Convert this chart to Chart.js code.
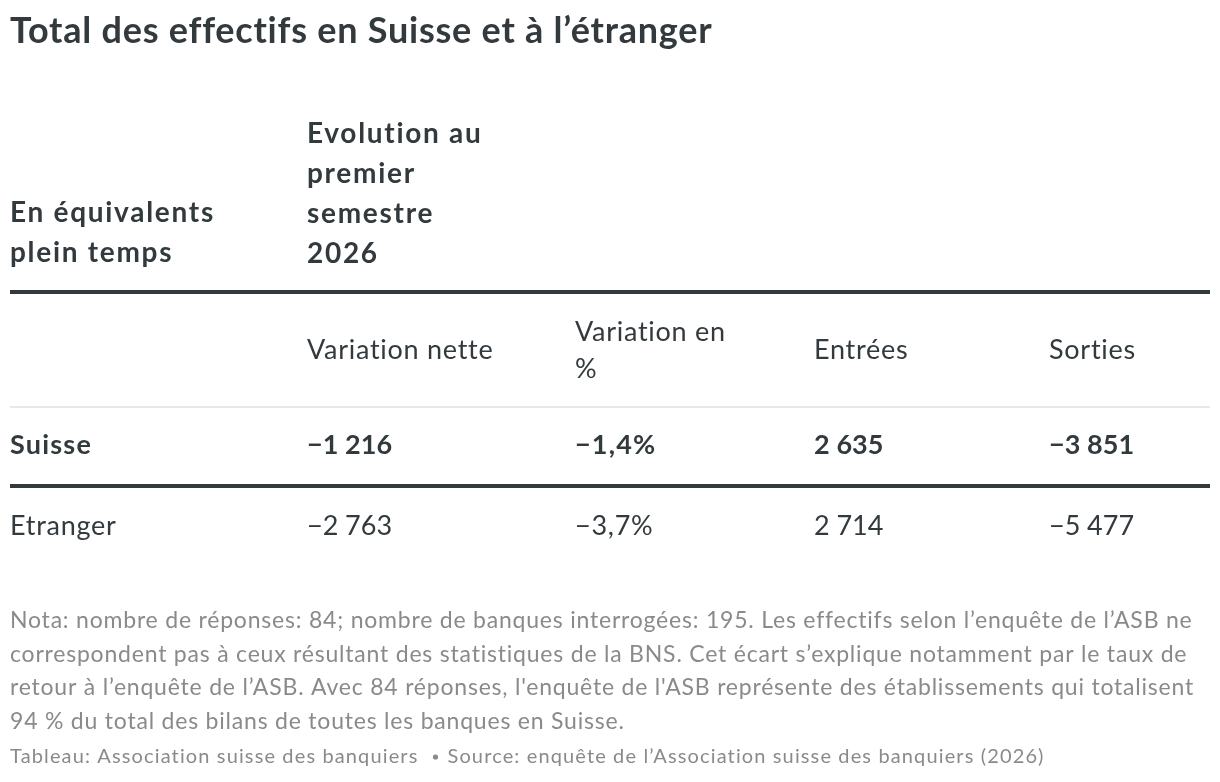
<!DOCTYPE html>
<html lang="fr">
<head>
<meta charset="utf-8">
<title>Total des effectifs en Suisse et à l’étranger</title>
<script src="https://cdn.jsdelivr.net/npm/chart.js@4/dist/chart.umd.min.js"></script>
<style>
  html, body { margin: 0; padding: 0; background: #fff; }
  #wrap { width: 1220px; height: 782px; position: relative; }
</style>
</head>
<body>
<div id="wrap"><canvas id="tableChart"></canvas></div>
<script>
// --- data ---
const rows = ['Suisse', 'Etranger'];
const boldRows = ['Suisse'];
const columns = [['Variation nette'], ['Variation en', '%'], ['Entrées'], ['Sorties']];
const netChange = [-1216, -2763];
const pctChange = [-1.4, -3.7];
const entries = [2635, 2714];
const exits = [-3851, -5477];

const titleText = 'Total des effectifs en Suisse et à l’étranger';
const stubHeader = ['En équivalents', 'plein temps'];
const groupHeader = ['Evolution au', 'premier', 'semestre', '2026'];
const notes = [
  'Nota: nombre de réponses: 84; nombre de banques interrogées: 195. Les effectifs selon l’enquête de l’ASB ne',
  'correspondent pas à ceux résultant des statistiques de la BNS. Cet écart s’explique notamment par le taux de',
  'retour à l’enquête de l’ASB. Avec 84 réponses, l\'enquête de l\'ASB représente des établissements qui totalisent',
  '94 % du total des bilans de toutes les banques en Suisse.'
];
const sourceLeft = 'Tableau: Association suisse des banquiers';
const sourceRight = 'Source: enquête de l’Association suisse des banquiers (2026)';

// --- formatting ---
function fmtInt(n) {
  const s = Math.abs(n).toString().replace(/\B(?=(\d{3})+(?!\d))/g, '\u202F');
  return (n < 0 ? '\u2212' : '') + s;
}
function fmtPct(n) {
  const s = Math.abs(n).toFixed(1).replace('.', ',');
  return (n < 0 ? '\u2212' : '') + s + '%';
}

const valueCols = [
  { values: netChange, fmt: fmtInt },
  { values: pctChange, fmt: fmtPct },
  { values: entries, fmt: fmtInt },
  { values: exits, fmt: fmtInt }
];

// layout (left edges of the columns)
const colLeft = [10, 307, 575, 814, 1049];
const FONT = 'Lato, "Noto Sans", sans-serif';
const DARK = '#333a3d';
const GREY = '#8a8a8a';

// text styles: font + a sample string and the width it takes in the reference,
// used to pick a letter spacing so the narrower Lato spreads like the original
const styles = {
  title:  { font: '700 36px ' + FONT, sample: titleText, width: 702 },
  head:   { font: '700 28px ' + FONT, sample: 'Evolution au', width: 176 },
  body:   { font: '400 27px ' + FONT, sample: 'Variation nette', width: 186 },
  bold:   { font: '700 27px ' + FONT, sample: 'Suisse', width: 82 },
  notes:  { font: '400 23px ' + FONT, sample: notes[0], width: 1182 },
  source: { font: '400 20px ' + FONT, sample: sourceLeft, width: 409 }
};

function useStyle(ctx, st) {
  ctx.font = st.font;
  if (st.spacing === undefined) {
    ctx.letterSpacing = '0px';
    const w = ctx.measureText(st.sample).width;
    st.spacing = Math.max(0, (st.width - w) / st.sample.length);
  }
  ctx.letterSpacing = st.spacing.toFixed(2) + 'px';
}

const tablePlugin = {
  id: 'tableText',
  afterDraw(chart) {
    const ctx = chart.ctx;
    const y = chart.scales.y;
    const area = chart.chartArea;
    ctx.save();
    ctx.textAlign = 'left';
    ctx.textBaseline = 'alphabetic';
    ctx.fillStyle = DARK;

    // title
    useStyle(ctx, styles.title);
    ctx.fillText(titleText, 10, 43);

    // header block
    useStyle(ctx, styles.head);
    groupHeader.forEach((l, i) => ctx.fillText(l, colLeft[1], 143 + i * 40));
    stubHeader.forEach((l, i) => ctx.fillText(l, colLeft[0], 222 + i * 40));

    // thick rule under header
    ctx.fillRect(10, 290, 1200, 4);

    // column headers
    useStyle(ctx, styles.body);
    columns.forEach((lines, c) => {
      const first = 359 - (lines.length - 1) * 37 / 2;
      lines.forEach((l, i) => ctx.fillText(l, colLeft[c + 1], first + i * 37));
    });

    // thin rule above the body
    ctx.fillStyle = '#e8e8e8';
    ctx.fillRect(10, area.top + 2.5, 1200, 2);

    // body rows, placed by the category scale
    rows.forEach((r, i) => {
      const py = y.getPixelForValue(i);
      const bold = boldRows.includes(r);
      ctx.fillStyle = DARK;
      useStyle(ctx, bold ? styles.bold : styles.body);
      ctx.fillText(r, colLeft[0], py + 10);
      valueCols.forEach((col, c) => ctx.fillText(col.fmt(col.values[i]), colLeft[c + 1], py + 10));
      if (bold && i < rows.length - 1) {
        const mid = (py + y.getPixelForValue(i + 1)) / 2;
        ctx.fillRect(10, mid - 0.5, 1200, 4);
      }
    });

    // notes + source
    ctx.fillStyle = GREY;
    useStyle(ctx, styles.notes);
    notes.forEach((l, i) => ctx.fillText(l, 10, 628 + i * 33.5));
    useStyle(ctx, styles.source);
    ctx.fillText(sourceLeft, 10, 763);
    const w = ctx.measureText(sourceLeft).width;
    ctx.beginPath();
    ctx.arc(10 + w + 17, 757, 2.6, 0, Math.PI * 2);
    ctx.fill();
    ctx.fillText(sourceRight, 10 + w + 29, 763);
    ctx.restore();
  }
};

// one invisible point per cell, so the body rows come from the y scale
const datasets = valueCols.map((col, c) => ({
  label: columns[c].join(' '),
  data: rows.map(r => ({ x: c, y: r })),
  pointRadius: 0,
  pointHoverRadius: 0
}));

new Chart(document.getElementById('tableChart'), {
  type: 'scatter',
  data: { labels: rows, datasets: datasets },
  options: {
    responsive: true,
    maintainAspectRatio: false,
    animation: false,
    events: [],
    layout: { padding: { top: 403.5, bottom: 216.5, left: 0, right: 0 } },
    scales: {
      x: { type: 'linear', display: false, min: -0.5, max: 3.5 },
      y: { type: 'category', labels: rows, offset: true, display: false, grid: { display: false } }
    },
    plugins: {
      legend: { display: false },
      title: { display: false },
      tooltip: { enabled: false }
    }
  },
  plugins: [tablePlugin]
});
</script>
</body>
</html>
